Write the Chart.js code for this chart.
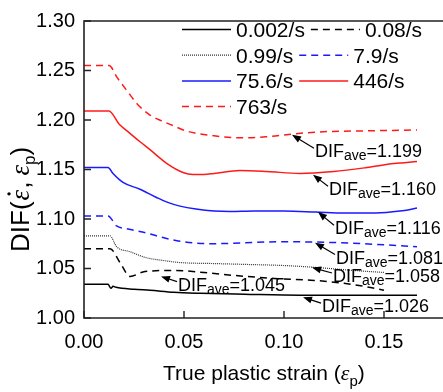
<!DOCTYPE html>
<html>
<head>
<meta charset="utf-8">
<script src="https://cdn.jsdelivr.net/npm/chart.js@4"></script>
<style>
  html, body { margin: 0; padding: 0; background: #fff; }
  #wrap { width: 443px; height: 392px; position: relative; }
</style>
</head>
<body>
<div id="wrap"><canvas id="difChart"></canvas></div>
<script>
// strain rate labels
const rateLabels = ['0.002/s', '0.08/s', '0.99/s', '7.9/s', '75.6/s', '446/s', '763/s'];

// curves (true plastic strain, DIF)
const r0002X = [0, 0.012, 0.0135, 0.0145, 0.016, 0.025, 0.033, 0.045, 0.058, 0.08, 0.108, 0.14, 0.1665];
const r0002Y = [1.034, 1.034, 1.030, 1.032, 1.031, 1.029, 1.028, 1.026, 1.025, 1.024, 1.023, 1.023, 1.023];

const r008X = [0, 0.013, 0.018, 0.023, 0.0305, 0.045, 0.06, 0.075, 0.095, 0.115, 0.13, 0.14, 0.15];
const r008Y = [1.070, 1.070, 1.056, 1.042, 1.047, 1.048, 1.046, 1.043, 1.040, 1.038, 1.035, 1.032, 1.028];

const r099X = [0, 0.013, 0.0163, 0.023, 0.031, 0.04, 0.048, 0.065, 0.083, 0.1, 0.1165, 0.135, 0.15];
const r099Y = [1.083, 1.083, 1.072, 1.067, 1.061, 1.058, 1.056, 1.055, 1.054, 1.053, 1.051, 1.048, 1.046];

const r79X = [0, 0.012, 0.0163, 0.022, 0.031, 0.04, 0.048, 0.0645, 0.08, 0.1, 0.12, 0.14, 0.1665];
const r79Y = [1.103, 1.103, 1.093, 1.090, 1.086, 1.081, 1.0775, 1.075, 1.076, 1.077, 1.0765, 1.075, 1.072];

const r756X = [0, 0.012, 0.0145, 0.0195, 0.028, 0.036, 0.0415, 0.048, 0.056, 0.065, 0.073, 0.085, 0.1, 0.116, 0.13, 0.146, 0.158, 0.1665];
const r756Y = [1.152, 1.152, 1.146, 1.137, 1.130, 1.122, 1.117, 1.113, 1.110, 1.108, 1.1075, 1.108, 1.108, 1.107, 1.106, 1.106, 1.108, 1.111];

const r446X = [0, 0.0125, 0.0175, 0.0215, 0.028, 0.033, 0.0415, 0.0495, 0.0545, 0.06, 0.065, 0.078, 0.0915, 0.108, 0.125, 0.1415, 0.155, 0.1665];
const r446Y = [1.209, 1.209, 1.196, 1.189, 1.178, 1.170, 1.156, 1.147, 1.145, 1.145, 1.146, 1.149, 1.148, 1.146, 1.148, 1.152, 1.156, 1.158];

const r763X = [0, 0.0125, 0.0167, 0.0217, 0.0267, 0.033, 0.039, 0.045, 0.051, 0.065, 0.078, 0.091, 0.105, 0.118, 0.141, 0.1665];
const r763Y = [1.255, 1.255, 1.2425, 1.229, 1.216, 1.205, 1.199, 1.194, 1.189, 1.184, 1.182, 1.183, 1.186, 1.188, 1.189, 1.190];

// DIFave callouts: arrow tip and text start, in data units
const aveValues = ['1.199', '1.160', '1.116', '1.081', '1.058', '1.045', '1.026'];
const aveTipX = [0.104, 0.1145, 0.117, 0.1155, 0.114, 0.0385, 0.1095];
const aveTipY = [1.185, 1.1447, 1.107, 1.076, 1.051, 1.042, 1.021];
const aveTextX = [0.1155, 0.1225, 0.1255, 0.126, 0.1245, 0.047, 0.119];
const aveTextY = [1.1624, 1.124, 1.0846, 1.055, 1.0364, 1.0276, 1.0059];

const SANS = "'Liberation Sans', Arial, sans-serif";
const SERIF = "'Liberation Serif', 'Times New Roman', serif";

const pts = (xs, ys) => xs.map((x, i) => ({ x: x, y: ys[i] }));

function series(label, xs, ys, color, dash) {
    return {
        label: label,
        data: pts(xs, ys),
        borderColor: color,
        backgroundColor: color,
        borderWidth: 1.5,
        borderDash: dash,
        pointRadius: 0,
        cubicInterpolationMode: 'monotone',
        fill: false
    };
}

const datasets = [
    series(rateLabels[0], r0002X, r0002Y, '#000000', []),
    series(rateLabels[1], r008X, r008Y, '#000000', [7, 5]),
    series(rateLabels[2], r099X, r099Y, '#333333', [1, 1]),
    series(rateLabels[3], r79X, r79Y, '#1a1aff', [7, 5]),
    series(rateLabels[4], r756X, r756Y, '#1a1aff', []),
    series(rateLabels[5], r446X, r446Y, '#ff1a1a', []),
    series(rateLabels[6], r763X, r763Y, '#ff1a1a', [7, 5])
];
datasets[2].borderWidth = 1.2;

// draws a run of text pieces, each with its own font and baseline shift
function drawRich(ctx, parts, x, y) {
    let cx = x;
    parts.forEach(p => {
        ctx.font = p.font;
        ctx.fillText(p.text, cx, y + (p.dy || 0));
        cx += ctx.measureText(p.text).width + (p.gap || 0);
    });
    return cx;
}

const decorPlugin = {
    id: 'decor',
    afterDraw(chart) {
        const ctx = chart.ctx;
        const area = chart.chartArea;
        const xs = chart.scales.x;
        const ys = chart.scales.y;
        ctx.save();

        // frame: left, bottom, top (right edge is off the picture)
        ctx.strokeStyle = '#222';
        ctx.lineWidth = 1.6;
        ctx.setLineDash([]);
        ctx.beginPath();
        ctx.moveTo(area.right + 2, area.top);
        ctx.lineTo(area.left, area.top);
        ctx.lineTo(area.left, area.bottom);
        ctx.lineTo(area.right + 2, area.bottom);
        ctx.stroke();

        // inward tick marks
        ctx.lineWidth = 1.4;
        ctx.beginPath();
        xs.ticks.forEach(t => {
            const px = xs.getPixelForValue(t.value);
            ctx.moveTo(px, area.bottom);
            ctx.lineTo(px, area.bottom - 7);
        });
        ys.ticks.forEach(t => {
            const py = ys.getPixelForValue(t.value);
            ctx.moveTo(area.left, py);
            ctx.lineTo(area.left + 7, py);
        });
        ctx.stroke();

        // legend, two entries per row
        ctx.fillStyle = '#000';
        ctx.textBaseline = 'alphabetic';
        ctx.font = '21px ' + SANS;
        const rowGap = 25.7;
        for (let i = 0; i < chart.data.datasets.length; i += 2) {
            const rowY = 29.5 + (i / 2) * rowGap;
            let lx = 182;
            for (let j = i; j < Math.min(i + 2, chart.data.datasets.length); j++) {
                const ds = chart.data.datasets[j];
                ctx.strokeStyle = ds.borderColor;
                ctx.lineWidth = ds.borderWidth;
                ctx.setLineDash(ds.borderDash || []);
                ctx.beginPath();
                ctx.moveTo(lx, rowY);
                ctx.lineTo(lx + 49, rowY);
                ctx.stroke();
                ctx.setLineDash([]);
                ctx.fillText(ds.label, lx + 54, rowY + 7.5);
                lx = lx + 54 + ctx.measureText(ds.label).width + 6;
            }
        }

        // DIFave callouts with arrows
        aveValues.forEach((v, i) => {
            const tx = xs.getPixelForValue(aveTipX[i]);
            const ty = ys.getPixelForValue(aveTipY[i]);
            const lx = xs.getPixelForValue(aveTextX[i]);
            const ly = ys.getPixelForValue(aveTextY[i]);
            const sx = lx - 1, sy = ly - 9;
            const ang = Math.atan2(ty - sy, tx - sx);
            ctx.strokeStyle = '#000';
            ctx.fillStyle = '#000';
            ctx.lineWidth = 1.2;
            ctx.beginPath();
            ctx.moveTo(sx, sy);
            ctx.lineTo(tx - 6 * Math.cos(ang), ty - 6 * Math.sin(ang));
            ctx.stroke();
            ctx.beginPath();
            ctx.moveTo(tx, ty);
            ctx.lineTo(tx - 9 * Math.cos(ang) + 3.5 * Math.sin(ang), ty - 9 * Math.sin(ang) - 3.5 * Math.cos(ang));
            ctx.lineTo(tx - 9 * Math.cos(ang) - 3.5 * Math.sin(ang), ty - 9 * Math.sin(ang) + 3.5 * Math.cos(ang));
            ctx.closePath();
            ctx.fill();
            drawRich(ctx, [
                { text: 'DIF', font: '18px ' + SANS },
                { text: 'ave', font: '14px ' + SANS, dy: 3 },
                { text: '=' + v, font: '18px ' + SANS }
            ], lx, ly);
        });

        // x axis title
        ctx.fillStyle = '#000';
        drawRich(ctx, [
            { text: 'True plastic strain (', font: '21px ' + SANS },
            { text: 'ε', font: 'italic 22px ' + SERIF },
            { text: 'p', font: '15px ' + SANS, dy: 6 },
            { text: ')', font: '21px ' + SANS }
        ], 163, 380);

        // y axis title, rotated
        ctx.save();
        ctx.translate(29, 252);
        ctx.rotate(-Math.PI / 2);
        const e1 = drawRich(ctx, [
            { text: 'DIF(', font: '26px ' + SANS }
        ], 0, 0);
        ctx.font = 'italic 27px ' + SERIF;
        ctx.fillText('ε', e1 + 1, 0);
        const ew = ctx.measureText('ε').width;
        ctx.beginPath();
        ctx.arc(e1 + 1 + ew * 0.62, -20, 1.7, 0, Math.PI * 2);
        ctx.fill();
        drawRich(ctx, [
            { text: ',', font: '26px ' + SANS, gap: 6 },
            { text: 'ε', font: 'italic 27px ' + SERIF },
            { text: 'p', font: '17px ' + SANS, dy: 6 },
            { text: ')', font: '26px ' + SANS }
        ], e1 + 2 + ew, 0);
        ctx.restore();

        ctx.restore();
    }
};

Chart.defaults.font.family = SANS;
Chart.defaults.font.size = 20;
Chart.defaults.color = '#000';

new Chart(document.getElementById('difChart').getContext('2d'), {
    type: 'line',
    data: { datasets: datasets },
    options: {
        responsive: true,
        maintainAspectRatio: false,
        animation: false,
        layout: { padding: { top: 15, right: 0, left: 0, bottom: 0 } },
        plugins: {
            legend: { display: false },
            tooltip: { enabled: false }
        },
        scales: {
            x: {
                type: 'linear',
                min: 0,
                max: 0.1795,
                grid: { display: false, drawTicks: false },
                border: { display: false },
                ticks: {
                    stepSize: 0.05,
                    includeBounds: false,
                    padding: 12,
                    maxRotation: 0,
                    callback: v => v.toFixed(2)
                },
                afterFit: s => { s.height = 74; }
            },
            y: {
                type: 'linear',
                min: 1.0,
                max: 1.3,
                grid: { display: false, drawTicks: false },
                border: { display: false },
                ticks: {
                    stepSize: 0.05,
                    padding: 9,
                    callback: v => v.toFixed(2)
                },
                afterFit: s => { s.width = 84; }
            }
        }
    },
    plugins: [decorPlugin]
});
</script>
</body>
</html>
